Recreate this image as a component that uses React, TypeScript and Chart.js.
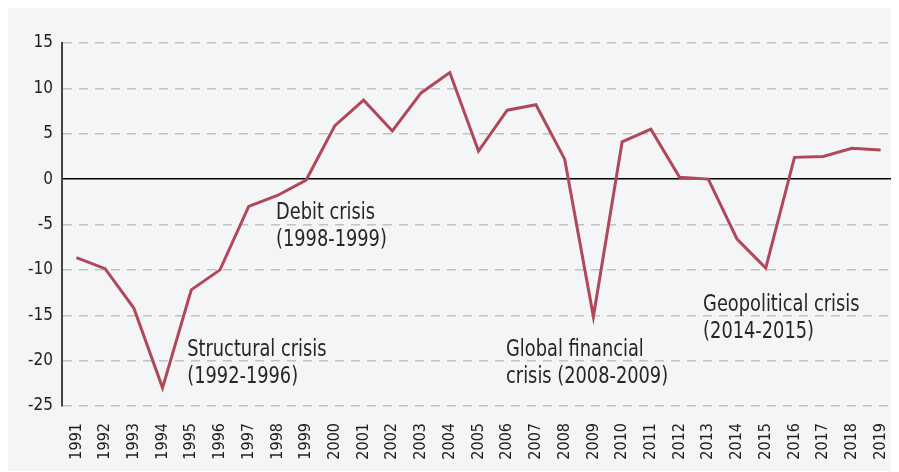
import { useEffect, useRef } from 'react';
import { Chart, registerables } from 'chart.js';

Chart.register(...registerables);

const years = [
  '1991', '1992', '1993', '1994', '1995', '1996', '1997', '1998', '1999', '2000',
  '2001', '2002', '2003', '2004', '2005', '2006', '2007', '2008', '2009', '2010',
  '2011', '2012', '2013', '2014', '2015', '2016', '2017', '2018', '2019',
];

const growth = [
  -8.65, -9.87, -14.2, -23.0, -12.2, -10.0, -3.0, -1.8, -0.1, 5.9,
  8.7, 5.3, 9.5, 11.75, 3.1, 7.6, 8.2, 2.2, -15.15, 4.1,
  5.5, 0.2, 0.0, -6.6, -9.8, 2.4, 2.5, 3.4, 3.2,
];

const yMin = -25;
const yMax = 15;
const yStep = 5;

// Annotation anchors: category index (fractional) and value of first text baseline
const crisisNotes = [
  { at: 3.86, value: -19.5, lines: ['Structural crisis', '(1992-1996)'] },
  { at: 6.95, value: -4.4, lines: ['Debit crisis', '(1998-1999)'] },
  { at: 14.96, value: -19.5, lines: ['Global financial', 'crisis (2008-2009)'] },
  { at: 21.82, value: -14.5, lines: ['Geopolitical crisis', '(2014-2015)'] },
];

const FONT = '"DejaVu Sans Condensed", "Liberation Sans Narrow", sans-serif';

const notesPlugin = {
  id: 'crisisNotes',
  afterDatasetsDraw(chart: any) {
    const { ctx, scales } = chart;
    const x = scales.x;
    const y = scales.y;
    const squeeze = 0.86;
    ctx.save();
    ctx.font = `23px ${FONT}`;
    ctx.fillStyle = '#262626';
    ctx.textAlign = 'left';
    ctx.textBaseline = 'alphabetic';
    for (const n of crisisNotes) {
      const px = x.getPixelForValue(n.at);
      const py = y.getPixelForValue(n.value);
      n.lines.forEach((line, i) => {
        ctx.save();
        ctx.translate(px, py + i * 27);
        ctx.scale(squeeze, 1);
        ctx.fillText(line, 0, 0);
        ctx.restore();
      });
    }
    ctx.restore();
  },
};

export default function App() {
  const canvasRef = useRef<HTMLCanvasElement | null>(null);

  useEffect(() => {
    document.body.style.overflow = 'hidden';
    const canvas = canvasRef.current;
    if (!canvas) return;
    const chart = new Chart(canvas, {
      type: 'line',
      data: {
        labels: years,
        datasets: [
          {
            data: growth,
            borderColor: '#b0485a',
            borderWidth: 3,
            pointRadius: 0,
            pointHoverRadius: 0,
            tension: 0,
            fill: false,
          },
        ],
      },
      options: {
        responsive: false,
        animation: false,
        layout: { padding: { top: 35, right: 4, left: 0, bottom: 0 } },
        plugins: {
          legend: { display: false },
          tooltip: { enabled: false },
          title: { display: false },
        },
        scales: {
          x: {
            offset: true,
            grid: { display: false, drawTicks: false },
            border: { display: false },
            ticks: {
              autoSkip: false,
              maxRotation: 90,
              minRotation: 90,
              padding: 17,
              color: '#1e1e1e',
              font: { family: FONT, size: 16 },
            },
            afterFit(scale: any) {
              scale.height = 65;
              scale.paddingLeft = 0;
              scale.paddingRight = 0;
            },
          },
          y: {
            min: yMin,
            max: yMax,
            ticks: {
              stepSize: yStep,
              padding: 9,
              color: '#1e1e1e',
              font: { family: FONT, size: 17 },
            },
            grid: {
              drawTicks: false,
              lineWidth: 1.5,
              color: (c: any) => (c.tick && c.tick.value === 0 ? '#000000' : '#c2c2c2'),
            },
            border: {
              display: true,
              color: '#444444',
              width: 2,
              dash: (c: any) => (c.tick && c.tick.value !== 0 ? [9, 7] : []),
            },
            afterFit(scale: any) {
              scale.width = 54;
              scale.paddingTop = 0;
              scale.paddingBottom = 0;
            },
          },
        },
      },
      plugins: [notesPlugin],
    });
    return () => chart.destroy();
  }, []);

  return (
    <div style={{ width: 891, height: 463, background: '#f4f5f7' }}>
      <canvas ref={canvasRef} width={891} height={463} style={{ display: 'block', width: 891, height: 463 }} />
    </div>
  );
}
